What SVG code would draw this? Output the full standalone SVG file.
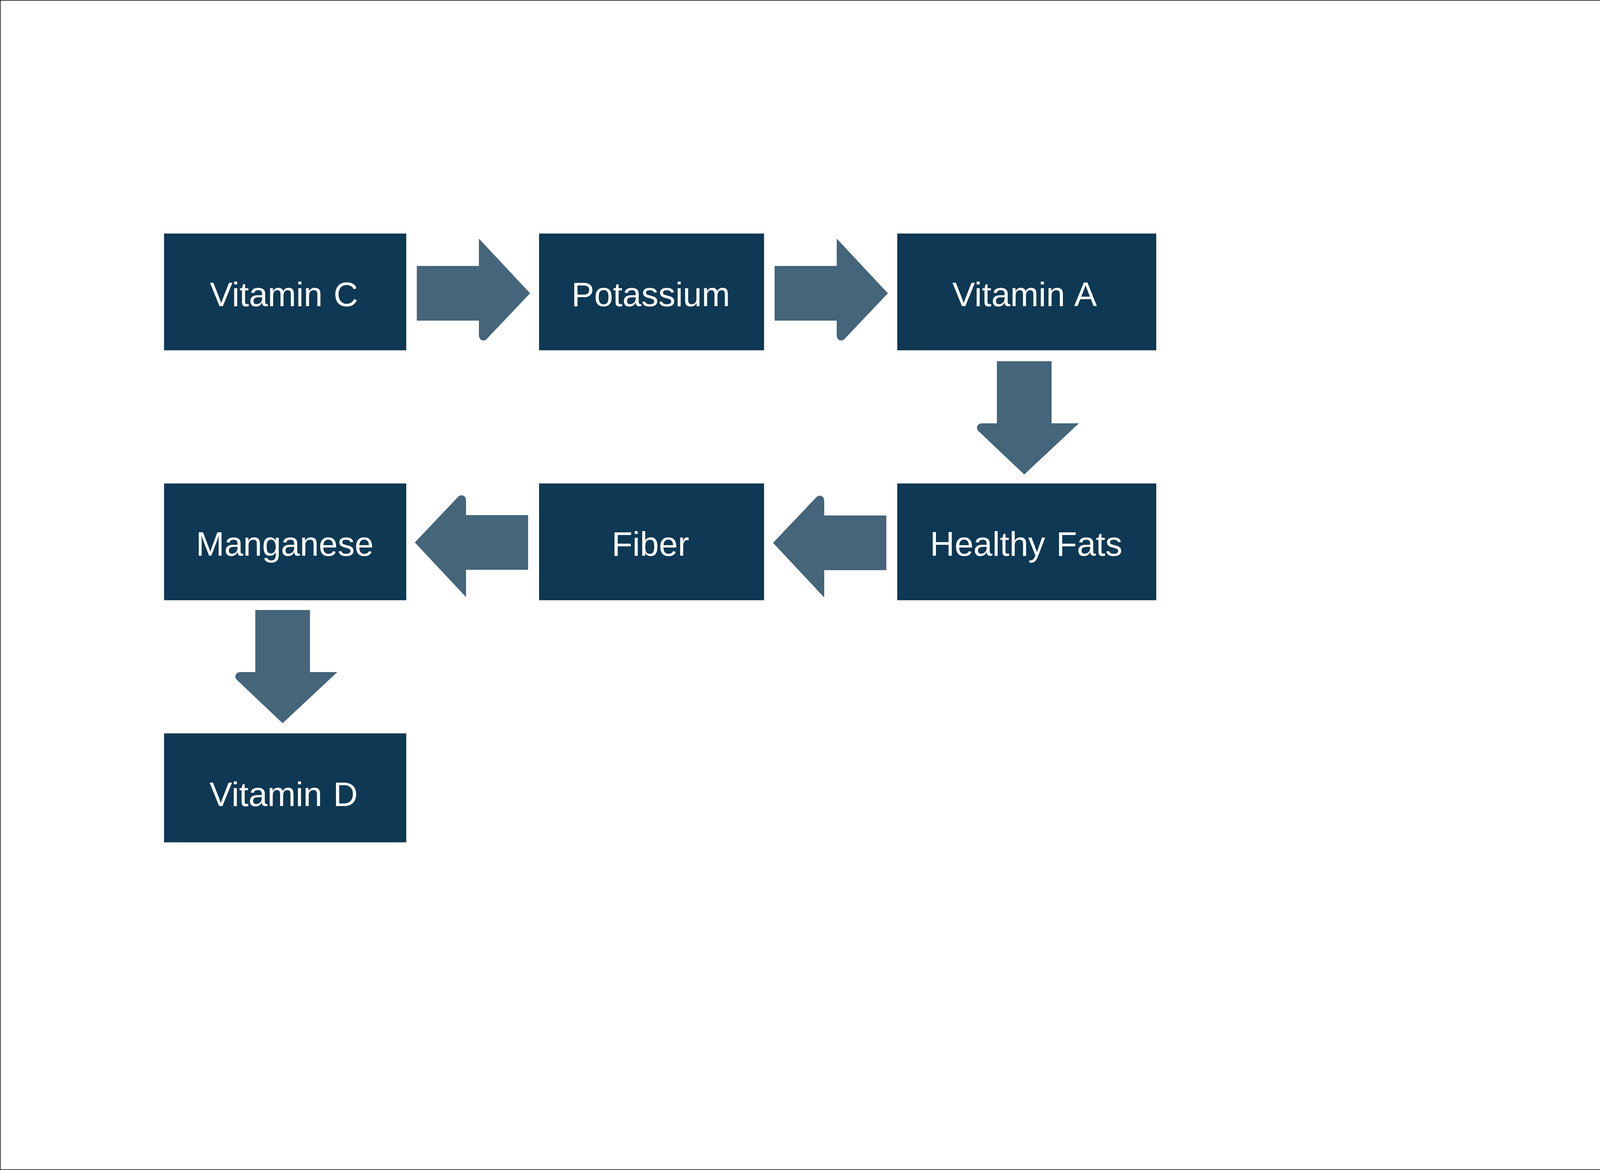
<svg xmlns="http://www.w3.org/2000/svg" xmlns:xlink="http://www.w3.org/1999/xlink" width="4233" height="2996" viewBox="0 0 4233 2996">
  <style>
    .box { fill: #0e3853; }
    .lbl { fill: #ffffff; font-family: "Liberation Sans", Arial, sans-serif; font-size: 87px; text-anchor: middle; word-spacing: 4px; }
    .arrow { fill: #44657a; }
  </style>
  <defs>
    <path id="arr" d="M0,-70 H159 V-140 L290,0 L179,117 C173,124 159,122 159,107 V70 H0 Z"/>
  </defs>
  <rect x="0.75" y="0.75" width="4231.5" height="2994.5" fill="#ffffff" stroke="#000000" stroke-width="1.5"/>

  <g id="connectors">
    <use xlink:href="#arr" class="arrow" transform="translate(1067,751)"/>
    <use xlink:href="#arr" class="arrow" transform="translate(1983,751)"/>
    <use xlink:href="#arr" class="arrow" transform="translate(2622,925) rotate(90)"/>
    <use xlink:href="#arr" class="arrow" transform="translate(2269,1390) rotate(180)"/>
    <use xlink:href="#arr" class="arrow" transform="translate(1352,1389) rotate(180)"/>
    <use xlink:href="#arr" class="arrow" transform="translate(723.5,1562) rotate(90)"/>
  </g>

  <g id="node-vitamin-c">
    <rect class="box" x="420" y="598" width="620" height="299"/>
    <text class="lbl" x="727" y="784">Vitamin C</text>
  </g>
  <g id="node-potassium">
    <rect class="box" x="1380" y="598" width="576" height="299"/>
    <text class="lbl" x="1666" y="784">Potassium</text>
  </g>
  <g id="node-vitamin-a">
    <rect class="box" x="2297" y="598" width="663" height="299"/>
    <text class="lbl" x="2623" y="784">Vitamin A</text>
  </g>
  <g id="node-healthy-fats">
    <rect class="box" x="2297" y="1238" width="663" height="299"/>
    <text class="lbl" x="2627" y="1423">Healthy Fats</text>
  </g>
  <g id="node-fiber">
    <rect class="box" x="1380" y="1238" width="576" height="299"/>
    <text class="lbl" x="1665" y="1423">Fiber</text>
  </g>
  <g id="node-manganese">
    <rect class="box" x="420" y="1238" width="620" height="299"/>
    <text class="lbl" x="729" y="1423">Manganese</text>
  </g>
  <g id="node-vitamin-d">
    <rect class="box" x="420" y="1878" width="620" height="279"/>
    <text class="lbl" x="726" y="2064">Vitamin D</text>
  </g>
</svg>
